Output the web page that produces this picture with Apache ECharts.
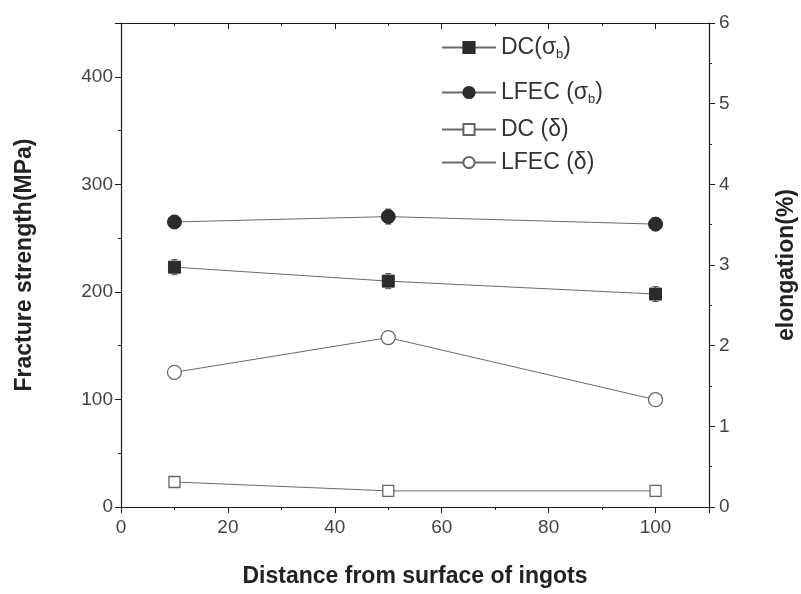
<!DOCTYPE html>
<html>
<head>
<meta charset="utf-8">
<style>
  html, body { margin: 0; padding: 0; background: #fff; }
  #chart { width: 801px; height: 594px; }
</style>
<script src="https://cdn.jsdelivr.net/npm/echarts@6/dist/echarts.min.js"></script>
</head>
<body>
<div id="chart"></div>
<script>
// Distance from the ingot surface (mm)
const distance = [10, 50, 100];

// Fracture strength, MPa (left axis)
const dcStrength = [223, 210, 198];
const lfecStrength = [265, 270, 263];
const dcStrengthErr = [7, 7, 7];
const lfecStrengthErr = [6, 7, 6];

// Elongation, % (right axis)
const dcElongation = [0.31, 0.2, 0.2];
const lfecElongation = [1.67, 2.1, 1.33];

const seriesNames = ['DC(σb)', 'LFEC (σb)', 'DC (δ)', 'LFEC (δ)'];
const legendLabels = [
  '{t|DC(σ}{s|b}{t|)}',
  '{t|LFEC (σ}{s|b}{t|)}',
  '{t|DC (δ)}',
  '{t|LFEC (δ)}'
];

const FONT = '"Liberation Sans", Arial, sans-serif';
const LINE = '#6a6a6a';
const DARK = '#2b2b2b';
const AXIS = '#1a1a1a';

function pairs(xs, ys) { return xs.map((x, i) => [x, ys[i]]); }
function errTriples(xs, ys, es) { return xs.map((x, i) => [x, ys[i], es[i]]); }

function errorBars(data) {
  return {
    type: 'custom',
    xAxisIndex: 0,
    yAxisIndex: 0,
    silent: true,
    z: 1,
    data: data,
    renderItem: function (params, api) {
      const x = api.value(0), y = api.value(1), e = api.value(2);
      const lo = api.coord([x, y - e]);
      const hi = api.coord([x, y + e]);
      const w = 3;
      return {
        type: 'group',
        children: [
          { type: 'line', shape: { x1: lo[0], y1: lo[1], x2: hi[0], y2: hi[1] }, style: { stroke: '#555', lineWidth: 1 } },
          { type: 'line', shape: { x1: lo[0] - w, y1: lo[1], x2: lo[0] + w, y2: lo[1] }, style: { stroke: '#555', lineWidth: 1 } },
          { type: 'line', shape: { x1: hi[0] - w, y1: hi[1], x2: hi[0] + w, y2: hi[1] }, style: { stroke: '#555', lineWidth: 1 } }
        ]
      };
    }
  };
}

const legendRows = [31, 76, 113, 146];
const legends = seriesNames.map((name, i) => ({
  data: [name],
  left: 436,
  top: legendRows[i],
  orient: 'vertical',
  itemWidth: 54,
  itemHeight: 14,
  itemGap: 0,
  formatter: function () { return legendLabels[i]; },
  textStyle: {
    rich: {
      t: { fontFamily: FONT, fontSize: 23, color: '#333' },
      s: { fontFamily: FONT, fontSize: 13, color: '#333', padding: [13, 0, 0, 0] }
    }
  },
  selectedMode: false
}));

const axisLabelStyle = { fontFamily: FONT, fontSize: 19, color: '#444' };
const axisLineStyle = { show: true, onZero: false, lineStyle: { color: AXIS, width: 1.2 } };
const titleStyle = { fontFamily: FONT, fontSize: 23, fontWeight: 'bold', color: '#222' };

const option = {
  backgroundColor: '#ffffff',
  animation: false,
  legend: legends,
  grid: { left: 121, right: 92, top: 23, bottom: 87, containLabel: false, outerBoundsMode: 'none' },
  xAxis: [
    {
      type: 'value', position: 'bottom', min: 0, max: 110, interval: 20,
      name: 'Distance from surface of ingots', nameLocation: 'middle', nameGap: 58,
      nameTextStyle: titleStyle,
      axisLine: axisLineStyle,
      axisTick: { show: true, inside: false, length: 6, lineStyle: { color: AXIS } },
      minorTick: { show: true, splitNumber: 2, length: 3, lineStyle: { color: AXIS } },
      axisLabel: Object.assign({ margin: 11, showMaxLabel: false }, axisLabelStyle),
      splitLine: { show: false }
    },
    {
      type: 'value', position: 'top', min: 0, max: 110, interval: 20,
      axisLine: axisLineStyle,
      axisTick: { show: true, inside: true, length: 6, lineStyle: { color: AXIS } },
      minorTick: { show: true, splitNumber: 2, length: 3, lineStyle: { color: AXIS } },
      axisLabel: { show: false },
      splitLine: { show: false }
    }
  ],
  yAxis: [
    {
      type: 'value', position: 'left', min: 0, max: 450, interval: 100,
      name: 'Fracture strength(MPa)', nameLocation: 'middle', nameGap: 85, nameRotate: 90,
      nameTextStyle: titleStyle,
      axisLine: axisLineStyle,
      axisTick: { show: true, inside: false, length: 6, lineStyle: { color: AXIS } },
      minorTick: { show: true, splitNumber: 2, length: 3, lineStyle: { color: AXIS } },
      axisLabel: Object.assign({ margin: 8, showMaxLabel: false }, axisLabelStyle),
      splitLine: { show: false }
    },
    {
      type: 'value', position: 'right', min: 0, max: 6, interval: 1,
      name: 'elongation(%)', nameLocation: 'middle', nameGap: 66, nameRotate: 90,
      nameTextStyle: titleStyle,
      axisLine: axisLineStyle,
      axisTick: { show: true, inside: false, length: 6, lineStyle: { color: AXIS } },
      minorTick: { show: true, splitNumber: 2, length: 3, lineStyle: { color: AXIS } },
      axisLabel: Object.assign({ margin: 10 }, axisLabelStyle),
      splitLine: { show: false }
    }
  ],
  series: [
    errorBars(errTriples(distance, dcStrength, dcStrengthErr)),
    errorBars(errTriples(distance, lfecStrength, lfecStrengthErr)),
    {
      name: seriesNames[0], type: 'line', xAxisIndex: 0, yAxisIndex: 0,
      data: pairs(distance, dcStrength),
      symbol: 'rect', symbolSize: 12,
      lineStyle: { color: LINE, width: 1 },
      itemStyle: { color: DARK, borderColor: DARK, borderWidth: 1 },
      z: 3
    },
    {
      name: seriesNames[1], type: 'line', xAxisIndex: 0, yAxisIndex: 0,
      data: pairs(distance, lfecStrength),
      symbol: 'circle', symbolSize: 14,
      lineStyle: { color: LINE, width: 1 },
      itemStyle: { color: DARK, borderColor: DARK, borderWidth: 1 },
      z: 3
    },
    {
      name: seriesNames[2], type: 'line', xAxisIndex: 0, yAxisIndex: 1,
      data: pairs(distance, dcElongation),
      symbol: 'rect', symbolSize: 11,
      lineStyle: { color: LINE, width: 1 },
      itemStyle: { color: '#fff', borderColor: '#666', borderWidth: 1.3 },
      z: 3
    },
    {
      name: seriesNames[3], type: 'line', xAxisIndex: 0, yAxisIndex: 1,
      data: pairs(distance, lfecElongation),
      symbol: 'circle', symbolSize: 14,
      lineStyle: { color: LINE, width: 1 },
      itemStyle: { color: '#fff', borderColor: '#666', borderWidth: 1.3 },
      z: 3
    }
  ]
};

const chart = echarts.init(document.getElementById('chart'), null, { renderer: 'canvas' });
chart.setOption(option);
</script>
</body>
</html>
